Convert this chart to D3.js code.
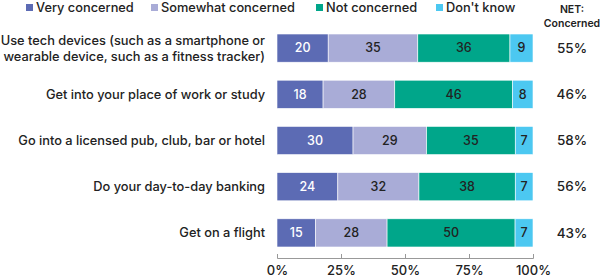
<!DOCTYPE html>
<html>
<head>
<meta charset="utf-8">
<script src="https://cdn.jsdelivr.net/npm/d3@7"></script>
<style>
  body { margin: 0; background: #fff; }
  svg { font-family: Inter, "Open Sans", sans-serif; }
</style>
</head>
<body>
<svg width="600" height="280"></svg>
<script>
const categories = [
  ['Use tech devices (such as a smartphone or', 'wearable device, such as a fitness tracker)'],
  ['Get into your place of work or study'],
  ['Go into a licensed pub, club, bar or hotel'],
  ['Do your day-to-day banking'],
  ['Get on a flight']
];
const seriesNames = ['Very concerned', 'Somewhat concerned', 'Not concerned', "Don't know"];
const veryConcerned = [20, 18, 30, 24, 15];
const somewhatConcerned = [35, 28, 29, 32, 28];
const notConcerned = [36, 46, 35, 38, 50];
const dontKnow = [9, 8, 7, 7, 7];
const netConcerned = ['55%', '46%', '58%', '56%', '43%'];
const tickValues = [0, 25, 50, 75, 100];

const colors = ['#5c6bb4', '#a9acd7', '#00a68a', '#4cc8f1'];
const labelColors = ['#fff', '#222', '#222', '#222'];

var svg = d3.select('svg');

var rows = categories.map((c, i) => {
  var vals = [veryConcerned[i], somewhatConcerned[i], notConcerned[i], dontKnow[i]];
  var total = d3.sum(vals);
  var x0 = 0;
  return vals.map((v, k) => {
    var seg = {row: i, key: k, value: v, x0: x0 / total * 100, x1: (x0 + v) / total * 100};
    x0 += v;
    return seg;
  });
});

var x = d3.scaleLinear().domain([0, 100]).range([277, 533]);
var y = d3.scaleBand()
  .domain(d3.range(categories.length))
  .range([25, 256])
  .paddingInner(0.39)
  .paddingOuter(0.195);

// bars
var rowG = svg.selectAll('.row')
  .data(rows)
  .enter()
  .append('g')
  .attr('class', 'row');

rowG.selectAll('rect')
  .data(d => d)
  .enter()
  .append('rect')
  .attr('x', d => x(d.x0))
  .attr('y', d => y(d.row))
  .attr('width', d => x(d.x1) - x(d.x0))
  .attr('height', y.bandwidth())
  .attr('fill', d => colors[d.key])
  .attr('stroke', '#fff')
  .attr('stroke-width', 0.6);

rowG.selectAll('text')
  .data(d => d)
  .enter()
  .append('text')
  .attr('x', d => (x(d.x0) + x(d.x1)) / 2)
  .attr('y', d => y(d.row) + y.bandwidth() / 2)
  .attr('dy', '0.35em')
  .attr('text-anchor', 'middle')
  .attr('font-size', 12.5)
  .attr('font-weight', 500)
  .attr('fill', d => labelColors[d.key])
  .text(d => d.value);

// category labels
svg.selectAll('.cat')
  .data(categories)
  .enter()
  .append('text')
  .attr('class', 'cat')
  .attr('text-anchor', 'end')
  .attr('font-size', 12.8)
  .attr('font-weight', 500)
  .attr('fill', '#222')
  .each(function(lines, i) {
    var cy = y(i) + y.bandwidth() / 2;
    d3.select(this).selectAll('tspan')
      .data(lines)
      .enter()
      .append('tspan')
      .attr('x', 265)
      .attr('y', (t, j) => cy + (j - (lines.length - 1) / 2) * 16)
      .attr('dy', '0.35em')
      .text(t => t);
  });

// net concerned
svg.append('text')
  .attr('x', 572).attr('y', 13)
  .attr('text-anchor', 'middle')
  .attr('font-size', 10.5).attr('font-weight', 600).attr('fill', '#222')
  .text('NET:');
svg.append('text')
  .attr('x', 572).attr('y', 27)
  .attr('text-anchor', 'middle')
  .attr('font-size', 10.5).attr('font-weight', 600).attr('fill', '#222')
  .text('Concerned');

svg.selectAll('.net')
  .data(netConcerned)
  .enter()
  .append('text')
  .attr('class', 'net')
  .attr('x', 572)
  .attr('y', (d, i) => y(i) + y.bandwidth() / 2)
  .attr('dy', '0.35em')
  .attr('text-anchor', 'middle')
  .attr('font-size', 13.5)
  .attr('font-weight', 500)
  .attr('fill', '#222')
  .text(d => d);

// axis
var axis = svg.append('g')
  .attr('transform', 'translate(0,258)')
  .call(d3.axisBottom(x)
    .tickValues(tickValues)
    .tickFormat(d => d + '%')
    .tickSizeInner(-4)
    .tickSizeOuter(-4)
    .tickPadding(8));
axis.select('.domain').attr('stroke', '#999');
axis.selectAll('.tick line').attr('stroke', '#999');
axis.selectAll('.tick text')
  .attr('font-size', 13)
  .attr('font-weight', 500)
  .attr('fill', '#222')
  .attr('font-family', 'Inter, "Open Sans", sans-serif');

// legend
var legendX = [26, 151, 316, 436];
var legend = svg.selectAll('.legend')
  .data(seriesNames)
  .enter()
  .append('g')
  .attr('class', 'legend')
  .attr('transform', (d, i) => `translate(${legendX[i]}, 4)`);

legend.append('rect')
  .attr('width', 7)
  .attr('height', 7)
  .attr('fill', (d, i) => colors[i]);

legend.append('text')
  .attr('x', 10)
  .attr('y', 4)
  .attr('dy', '0.35em')
  .attr('font-size', 12.8)
  .attr('font-weight', 500)
  .attr('fill', '#222')
  .text(d => d);
</script>
</body>
</html>
